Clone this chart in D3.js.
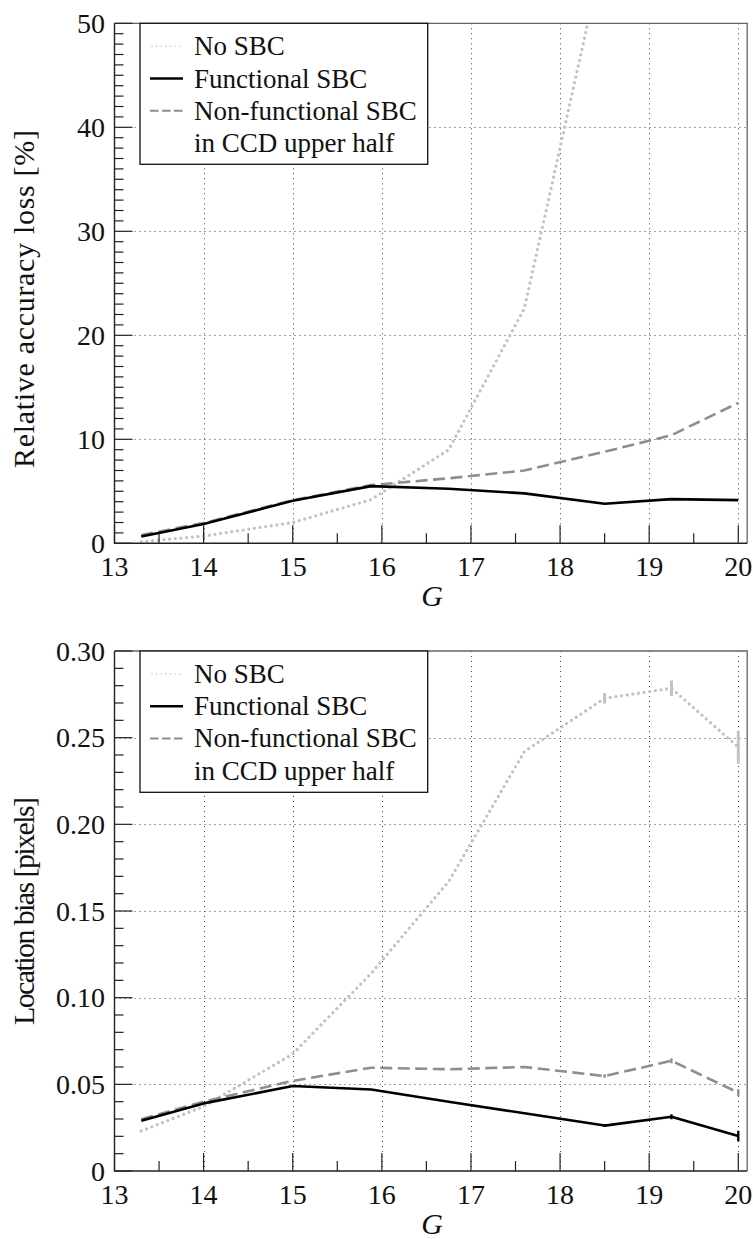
<!DOCTYPE html>
<html>
<head>
<meta charset="utf-8">
<script src="https://cdn.jsdelivr.net/npm/d3@7"></script>
<style>
  html, body { margin: 0; padding: 0; background: #fff; }
</style>
</head>
<body>
<svg id="chart" width="753" height="1239"></svg>
<script>
// Magnitude bins (G)
const magnitudes = [13.3, 14.0, 15.0, 15.88, 16.75, 17.6, 18.5, 19.25, 20.0];

// Upper panel: relative accuracy loss [%]
const noSbcLoss         = [0.15, 0.7, 2.0, 4.2, 9.0, 22.6, 57.3];
const functionalLoss    = [0.65, 1.85, 4.1, 5.5, 5.25, 4.8, 3.8, 4.25, 4.15];
const nonFunctionalLoss = [0.8, 1.95, 4.15, 5.6, 6.25, 7.0, 8.8, 10.4, 13.5];
const noSbcLossErr         = [0, 0, 0, 0, 0, 0, 0];
const functionalLossErr    = [0, 0, 0, 0, 0, 0, 0, 0, 0];
const nonFunctionalLossErr = [0, 0, 0, 0, 0, 0, 0, 0, 0];

// Lower panel: location bias [pixels]
const noSbcBias         = [0.0231, 0.0372, 0.0675, 0.114, 0.167, 0.242, 0.2727, 0.2785, 0.2445];
const functionalBias    = [0.029, 0.039, 0.049, 0.047, 0.040, 0.0333, 0.0262, 0.0313, 0.0202];
const nonFunctionalBias = [0.0298, 0.040, 0.052, 0.0596, 0.0587, 0.060, 0.0548, 0.0636, 0.0452];
const noSbcBiasErr         = [0, 0, 0, 0, 0, 0, 0.003, 0.0045, 0.0095];
const functionalBiasErr    = [0, 0, 0, 0, 0, 0, 0.0008, 0.0015, 0.003];
const nonFunctionalBiasErr = [0, 0, 0, 0, 0, 0, 0.001, 0.0015, 0.002];

// Axis ticks
const xMajorTicks = [13, 14, 15, 16, 17, 18, 19, 20];
const xMinorTicks = [13.5, 14.5, 15.5, 16.5, 17.5, 18.5, 19.5];
const lossTicks = [0, 10, 20, 30, 40, 50];
const lossMinorTicks = d3.range(1, 50).filter(v => v % 10 !== 0);
const biasTicks = [0, 0.05, 0.10, 0.15, 0.20, 0.25, 0.30];
const biasMinorTicks = [0.01,0.02,0.03,0.04,0.06,0.07,0.08,0.09,0.11,0.12,0.13,0.14,0.16,0.17,0.18,0.19,0.21,0.22,0.23,0.24,0.26,0.27,0.28,0.29];

const seriesNames = ["No SBC", "Functional SBC", "Non-functional SBC", "in CCD upper half"];

const FONT = "'Liberation Serif', 'DejaVu Serif', 'Noto Serif', 'Times New Roman', serif";

const styles = {
  noSbc:   { color: "#c2c2c2", width: 3.3, dash: "0,5.7", cap: "round", legendWidth: 1.6, legendDash: "0,4.6" },
  func:    { color: "#000000", width: 2.6, dash: null, cap: "butt", legendWidth: 2.4, legendDash: null },
  nonFunc: { color: "#8e8e8e", width: 2.6, dash: "12,5.5", cap: "butt", legendWidth: 2.0, legendDash: "8.5,3.5" }
};

const svg = d3.select("#chart").attr("font-family", FONT);
const x = d3.scaleLinear().domain([13, 20.1]).range([114.5, 747.2]);

function drawPanel(cfg) {
  const y = d3.scaleLinear().domain(cfg.yDomain).range([cfg.bottom, cfg.top]);
  const g = svg.append("g");
  const left = x.range()[0], right = x.range()[1];

  const clipId = "clip-" + cfg.id;
  g.append("clipPath").attr("id", clipId)
    .append("rect").attr("x", left).attr("y", cfg.top)
    .attr("width", right - left).attr("height", cfg.bottom - cfg.top);

  // dotted grid
  const grid = g.append("g").attr("stroke", "#444").attr("stroke-width", 1)
    .attr("stroke-dasharray", "1,4");
  grid.selectAll("line.vx").data(xMajorTicks.filter(t => t > 13)).join("line")
    .attr("x1", d => Math.round(x(d)) + 0.5).attr("x2", d => Math.round(x(d)) + 0.5)
    .attr("y1", cfg.top).attr("y2", cfg.bottom);
  grid.selectAll("line.hy").data(cfg.yTicks.filter(t => t > cfg.yDomain[0] && t < cfg.yDomain[1])).join("line")
    .attr("x1", left).attr("x2", right)
    .attr("y1", d => Math.round(y(d)) + 0.5).attr("y2", d => Math.round(y(d)) + 0.5);

  // frame: top and right borders
  g.append("path")
    .attr("d", `M${left},${cfg.top}H${right}V${cfg.bottom}`)
    .attr("fill", "none").attr("stroke", "#666").attr("stroke-width", 1.3);

  // data lines
  const plot = g.append("g").attr("clip-path", `url(#${clipId})`);
  const line = d3.line()
    .x((d, i) => x(magnitudes[i]))
    .y(d => y(d));
  cfg.series.forEach(s => {
    const st = styles[s.style];
    plot.append("path").datum(s.values)
      .attr("d", line)
      .attr("fill", "none")
      .attr("stroke", st.color)
      .attr("stroke-width", st.width)
      .attr("stroke-linecap", st.cap)
      .attr("stroke-linejoin", "round")
      .attr("stroke-dasharray", st.dash);
    // error bars
    const bars = s.values.map((v, i) => ({ g: magnitudes[i], v, e: s.err[i] })).filter(d => d.e > 0);
    plot.selectAll(null).data(bars).join("line")
      .attr("x1", d => x(d.g)).attr("x2", d => x(d.g))
      .attr("y1", d => y(d.v - d.e)).attr("y2", d => y(d.v + d.e))
      .attr("stroke", st.color).attr("stroke-width", st.width * 0.9);
  });

  // ticks (pointing inward)
  const ax = g.append("g").attr("stroke", "#222").attr("stroke-width", 1.2);
  ax.selectAll(null).data(xMajorTicks).join("line")
    .attr("x1", d => x(d)).attr("x2", d => x(d))
    .attr("y1", cfg.bottom).attr("y2", cfg.bottom - 18);
  ax.selectAll(null).data(xMinorTicks).join("line")
    .attr("x1", d => x(d)).attr("x2", d => x(d))
    .attr("y1", cfg.bottom).attr("y2", cfg.bottom - 10);
  ax.selectAll(null).data(cfg.yTicks).join("line")
    .attr("x1", left).attr("x2", left + 18)
    .attr("y1", d => y(d)).attr("y2", d => y(d));
  ax.selectAll(null).data(cfg.yMinor).join("line")
    .attr("x1", left).attr("x2", left + 9)
    .attr("y1", d => y(d)).attr("y2", d => y(d));

  // axis lines
  g.append("path")
    .attr("d", `M${left},${cfg.top}V${cfg.bottom}H${right}`)
    .attr("fill", "none").attr("stroke", "#222").attr("stroke-width", 1.4);

  // tick labels
  g.selectAll(null).data(xMajorTicks).join("text")
    .attr("x", d => x(d)).attr("y", cfg.bottom + 33)
    .attr("text-anchor", "middle").attr("font-size", 28)
    .attr("font-family", FONT).attr("fill", "#111")
    .text(d => d);
  g.selectAll(null).data(cfg.yTicks).join("text")
    .attr("x", 105).attr("y", d => y(d) + 9.5)
    .attr("text-anchor", "end").attr("font-size", 28)
    .attr("font-family", FONT).attr("fill", "#111")
    .text(cfg.yFormat);

  // axis titles
  g.append("text")
    .attr("x", 432).attr("y", cfg.bottom + 63)
    .attr("text-anchor", "middle").attr("font-size", 30)
    .attr("font-family", FONT).attr("fill", "#111")
    .attr("font-style", "italic")
    .text("G");
  g.append("text")
    .attr("transform", `translate(34,${cfg.yLabelCenter}) rotate(-90)`)
    .attr("text-anchor", "middle").attr("font-size", 30)
    .attr("font-family", FONT).attr("fill", "#111")
    .attr("textLength", cfg.yLabelLength).attr("lengthAdjust", "spacing")
    .text(cfg.yLabel);

  // legend
  const lx = 140, ly = cfg.top, lw = 287.7, lh = cfg.legendHeight;
  const leg = g.append("g");
  leg.append("rect").attr("x", lx).attr("y", ly).attr("width", lw).attr("height", lh)
    .attr("fill", "#fff").attr("stroke", "#111").attr("stroke-width", 1.3);
  const rows = [
    { style: "noSbc", label: seriesNames[0] },
    { style: "func", label: seriesNames[1] },
    { style: "nonFunc", label: seriesNames[2] },
    { style: null, label: seriesNames[3] }
  ];
  rows.forEach((r, i) => {
    const base = ly + 32 + i * 32.2;
    if (r.style) {
      const st = styles[r.style];
      leg.append("line")
        .attr("x1", r.style === "noSbc" ? 152 : 150).attr("x2", 183)
        .attr("y1", base - 9).attr("y2", base - 9)
        .attr("stroke", st.color).attr("stroke-width", st.legendWidth)
        .attr("stroke-linecap", st.cap)
        .attr("stroke-dasharray", st.legendDash);
    }
    leg.append("text").attr("x", 194).attr("y", base)
      .attr("font-size", 27).attr("font-family", FONT).attr("fill", "#111")
      .text(r.label);
  });
}

drawPanel({
  id: "loss",
  top: 23.3, bottom: 543.3,
  yDomain: [0, 50],
  yTicks: lossTicks, yMinor: lossMinorTicks,
  yFormat: d => d,
  yLabel: "Relative accuracy loss [%]",
  yLabelCenter: 299, yLabelLength: 338,
  legendHeight: 141,
  series: [
    { style: "noSbc", values: noSbcLoss, err: noSbcLossErr },
    { style: "nonFunc", values: nonFunctionalLoss, err: nonFunctionalLossErr },
    { style: "func", values: functionalLoss, err: functionalLossErr }
  ]
});

drawPanel({
  id: "bias",
  top: 651, bottom: 1171,
  yDomain: [0, 0.30],
  yTicks: biasTicks, yMinor: biasMinorTicks,
  yFormat: d => d === 0 ? "0" : d3.format(".2f")(d),
  yLabel: "Location bias [pixels]",
  yLabelCenter: 911, yLabelLength: 228,
  legendHeight: 141.3,
  series: [
    { style: "noSbc", values: noSbcBias, err: noSbcBiasErr },
    { style: "nonFunc", values: nonFunctionalBias, err: nonFunctionalBiasErr },
    { style: "func", values: functionalBias, err: functionalBiasErr }
  ]
});
</script>
</body>
</html>
